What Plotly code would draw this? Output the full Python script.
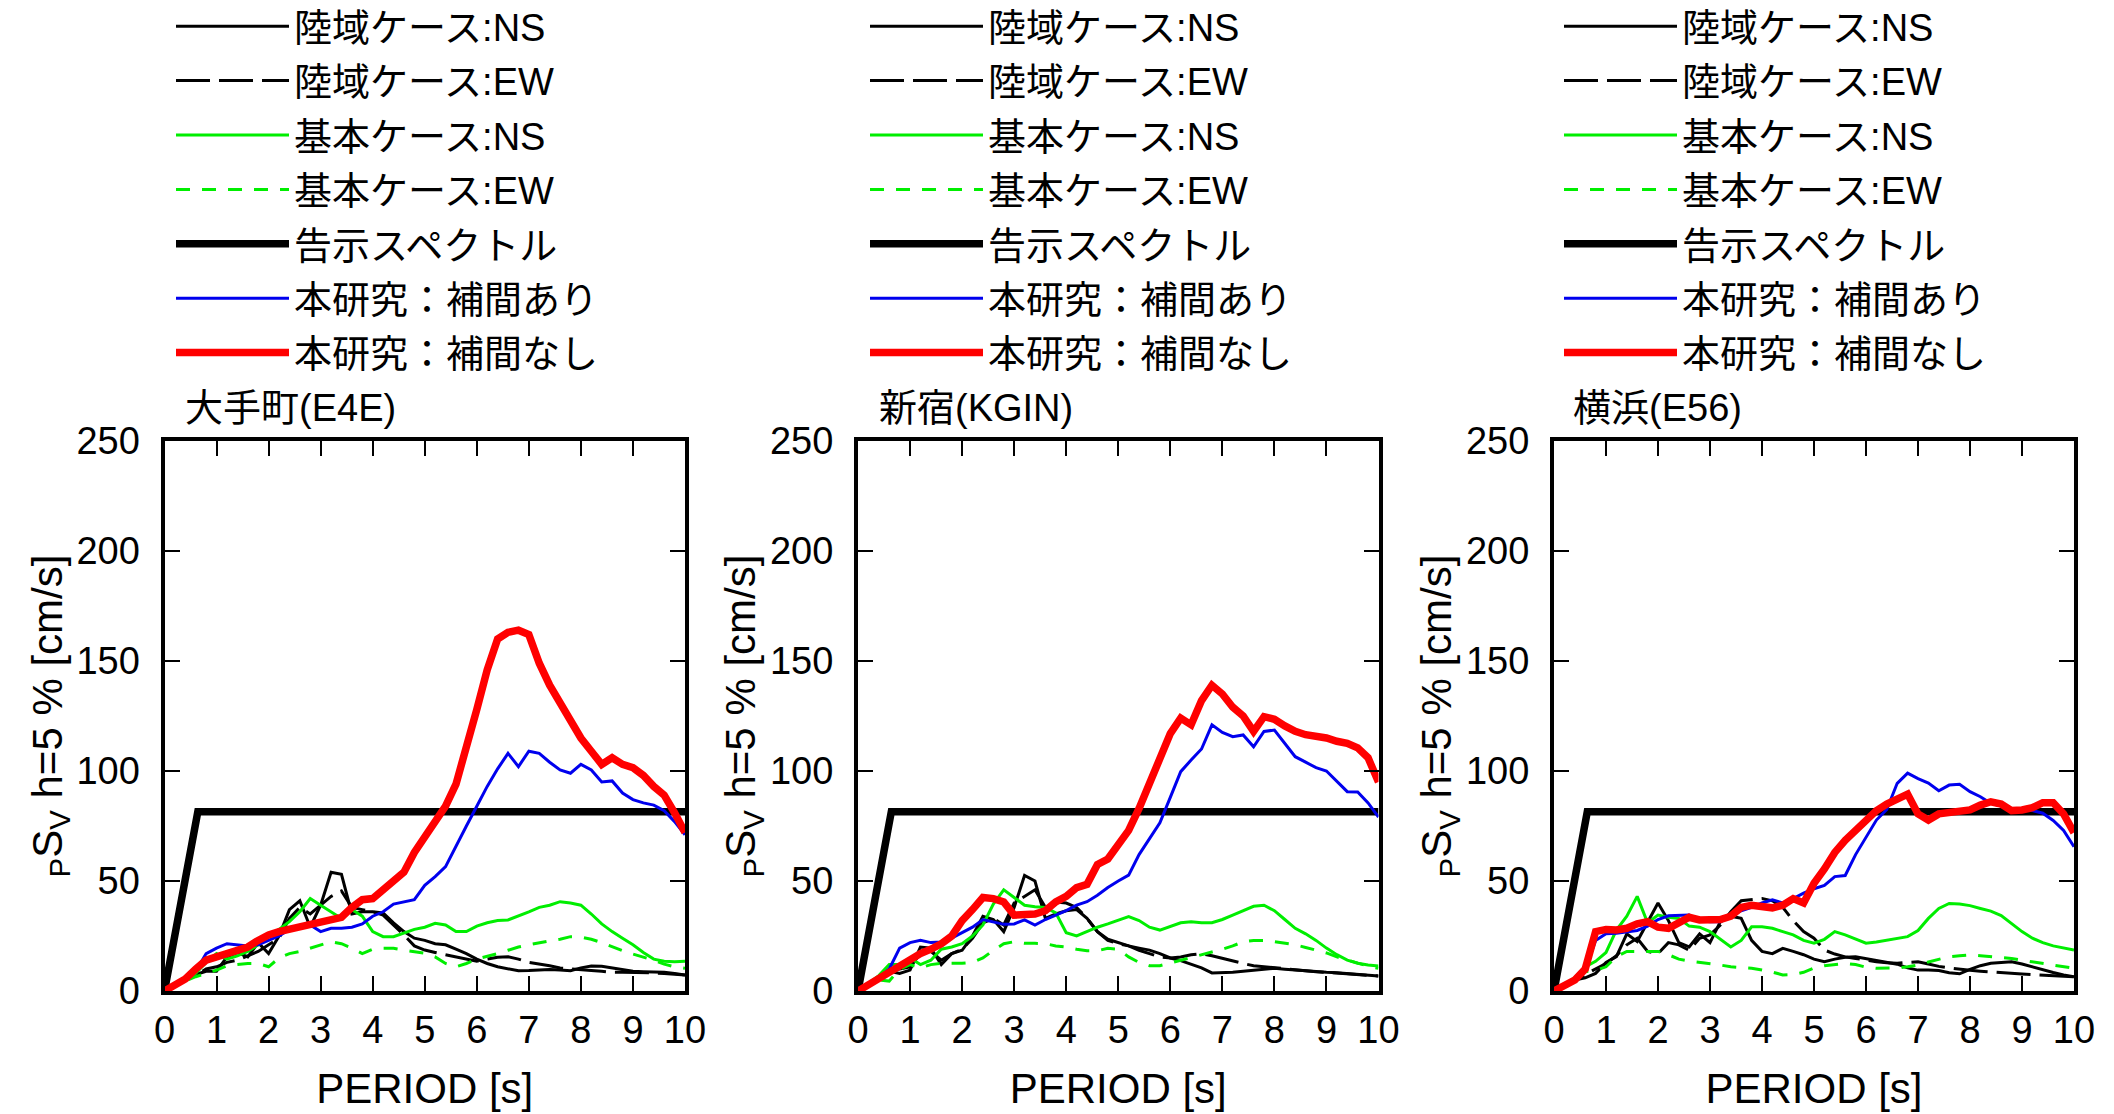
import plotly.graph_objects as go

# ---------------- data ----------------
PERIOD = [0.0, 0.2, 0.4, 0.6, 0.8, 1.0, 1.2, 1.4, 1.6, 1.8,
          2.0, 2.2, 2.4, 2.6, 2.8, 3.0, 3.2, 3.4, 3.6, 3.8,
          4.0, 4.2, 4.4, 4.6, 4.8, 5.0, 5.2, 5.4, 5.6, 5.8,
          6.0, 6.2, 6.4, 6.6, 6.8, 7.0, 7.2, 7.4, 7.6, 7.8,
          8.0, 8.2, 8.4, 8.6, 8.8, 9.0, 9.2, 9.4, 9.6, 9.8, 10.0]

KOKUJI_T = [0.0, 0.16, 0.64, 10.0]
KOKUJI_SV = [0.0, 20.4, 81.5, 81.5]

SITE_NAMES = ["大手町(E4E)", "新宿(KGIN)", "横浜(E56)"]
SERIES_NAMES = ["陸域ケース:NS", "陸域ケース:EW", "基本ケース:NS", "基本ケース:EW",
                "告示スペクトル", "本研究：補間あり", "本研究：補間なし"]

# --- 大手町 (E4E)
E4E_RIKU_NS = [0, 3, 5.5, 7.5, 9, 9, 15.5, 17.5, 15.5, 22,
               17, 25, 37, 41, 29, 39, 54, 53, 35, 36,
               36, 35.5, 31, 27, 24, 23, 21.5, 21, 19, 17,
               14.5, 12.5, 11, 10, 9.2, 9.3, 9.5, 9.8, 9.5, 9.2,
               10.5, 11.4, 11.2, 10.5, 9.5, 9, 8.8, 8.8, 8.5, 8, 7.3]
E4E_RIKU_EW = [0, 3, 5, 7, 10, 11, 13, 14, 16, 18,
               21, 24, 33, 38, 35, 39, 43, 45.5, 38, 37,
               36, 34.5, 30, 25.5, 20.5, 18.6, 17.5, 16.5, 15.5, 14.5,
               13.5, 14.5, 15.3, 15.6, 14.5, 13, 12.3, 11.5, 10.5, 10,
               9.5, 9.3, 9, 8.5, 8.5, 8.5, 8.3, 8.2, 8, 7.8, 7.3]
E4E_KIHON_NS = [0, 3, 5, 8, 13, 17, 14.5, 16, 18, 21,
                24.5, 28, 31.5, 36, 42, 39, 36, 33, 37, 34,
                27, 24.7, 24.7, 26.5, 28, 29, 30.8, 30, 27, 27,
                29.5, 31, 32, 32.3, 34, 36, 38, 39, 40.6, 40,
                39, 35, 30.5, 27, 24, 21, 17.5, 14.5, 13.5, 13.3, 13.5]
E4E_KIHON_EW = [0, 2.5, 4.5, 6.5, 8, 9.5, 11.5, 12, 12.5, 12.5,
                11, 15, 17, 18, 19.5, 21, 22.4, 21.5, 19.5, 17,
                19, 19.4, 19.4, 18.6, 18, 17.2, 15.5, 12.5, 11, 12.5,
                14.5, 15.6, 17, 18.5, 20, 21, 22, 22.8, 23.5, 24.7,
                24.5, 23.5, 22, 20, 18.3, 16.8, 15.5, 14, 12.2, 11, 10.3]
E4E_HOKAN_ARI = [0, 3, 5.5, 9, 17, 19.5, 21.5, 21, 20.5, 21,
                 23, 25, 28, 29.5, 30, 27, 28.5, 28.5, 29, 30.5,
                 34, 36, 39.5, 40.5, 41.5, 48, 52, 56.5, 66, 75,
                 84, 93, 101, 108, 102, 109, 108, 104, 100.5, 99,
                 103, 100.5, 95, 95.5, 90, 87, 85.5, 84.5, 82, 77, 71]
E4E_HOKAN_NASHI = [0, 3, 5.5, 10, 14, 15.5, 17, 18.5, 20, 23,
                   25.5, 27, 28, 29.5, 30, 31, 32, 33.5, 38, 41.5,
                   42, 46, 49, 54, 63, 70, 76, 84, 94, 110,
                   128, 146, 160, 163, 164, 162, 149, 139, 131, 123,
                   115, 109, 103, 106, 103, 101.5, 98, 93, 89, 81, 72]

# --- 新宿 (KGIN)
KGIN_RIKU_NS = [0, 3, 5.5, 9, 8, 9.5, 20, 19.5, 12, 17,
                18.5, 25, 34, 32.5, 27, 38, 52.5, 50, 33, 35,
                36.5, 37, 33, 27, 23.5, 22, 20.5, 19.5, 18.6, 17,
                15, 13.8, 12, 10.5, 8.2, 8.3, 8.5, 9, 9.5, 10,
                10.3, 9.9, 9.5, 9, 8.8, 8.5, 8.3, 8, 7.6, 7.2, 6.8]
KGIN_RIKU_EW = [0, 3, 6, 9.5, 10, 11, 17, 18, 14, 17,
                19, 24, 31, 33, 30, 40, 43, 46, 38, 40.5,
                40, 38, 33, 27, 23, 21.5, 20.5, 18.5, 17, 15.5,
                15, 15.5, 16.5, 17, 16, 14.8, 13.5, 12.5, 11.5, 11,
                10.5, 10.2, 9.8, 9.3, 8.8, 8.5, 8.2, 8, 7.6, 7.2, 6.8]
KGIN_KIHON_NS = [0, 3.5, 7, 12, 12, 15, 12, 14, 19, 20,
                 21.5, 25, 30, 39.5, 46, 42.5, 39, 38.3, 38, 35.5,
                 26.5, 25, 27, 29, 30.5, 32, 33.8, 32, 29, 27.7,
                 29.5, 31, 31.5, 31, 31, 32.5, 34.5, 36.5, 38.5, 39,
                 36.5, 32.5, 28.5, 26, 23, 19.5, 16.5, 14, 12.6, 11.8, 11.4]
KGIN_KIHON_EW = [0, 3, 5, 4.5, 10, 12, 10.5, 12, 12.6, 12.6,
                 12.6, 13, 15, 18.5, 21.5, 22.4, 21.7, 21.7, 21.5, 20.5,
                 20, 19, 18.3, 18.3, 19.4, 19, 15.5, 13, 11.5, 11.5,
                 12.6, 14, 15.2, 16.5, 17.5, 19, 20.5, 22.4, 23, 23,
                 22.4, 21.8, 21, 19.8, 18.5, 17.3, 15.5, 14, 12.6, 11.3, 10.3]
KGIN_HOKAN_ARI = [0, 3, 6, 10, 19.5, 22, 23, 22, 22.3, 24,
                  26.5, 29, 32.5, 31.5, 30.3, 30.5, 32.3, 30, 32.5, 34.5,
                  36.5, 39, 40.6, 43.5, 47, 50, 52.7, 62, 69.5, 76.5,
                  88, 99.7, 105, 110, 121, 117.5, 115.6, 116.4, 111, 118,
                  118.6, 112.5, 106.5, 104, 101.5, 100, 95.5, 90.6, 90.5, 85.5, 79]
KGIN_HOKAN_NASHI = [0, 3, 5.5, 8.5, 11, 15, 17, 19, 21.5, 25,
                    32, 37, 42.5, 42, 40.5, 34.5, 34.5, 35, 36.5, 40.5,
                    43, 47, 48.5, 57.5, 60, 66, 73, 83, 94, 105,
                    117, 124, 121, 132, 139, 135, 129, 125, 118, 124.7,
                    123.5, 120.5, 118, 116.5, 116, 115, 113.5, 112.6, 110.5, 106, 95]

# --- 横浜 (E56)
E56_RIKU_NS = [0, 3, 5, 6, 8, 13, 15.6, 26, 22.5, 31,
               40, 32, 22, 20, 26, 22, 31.5, 34, 33, 23,
               18, 17, 19.4, 18, 16.5, 14.5, 13.3, 14.5, 15.3, 15.6,
               14.8, 14, 13.2, 12.2, 10.5, 9.5, 9.5, 9.3, 8.3, 7.8,
               9.8, 11.5, 12.6, 13.1, 13.3, 12.3, 11, 9.5, 8.4, 7.3, 6.5]
E56_RIKU_EW = [0, 3, 5, 7.5, 10, 12.5, 16, 21, 24, 18,
               17, 22, 21, 18.5, 24, 25.5, 30, 36, 41, 41.5,
               42, 41, 38, 32, 27, 24, 18.6, 16.8, 15.5, 14.8,
               14, 13.3, 12.8, 12.6, 13, 13.3, 12.3, 11.2, 10.5, 9.8,
               9.4, 9, 8.6, 8.3, 8, 7.7, 7.4, 7.2, 7, 6.8, 6.5]
E56_KIHON_NS = [0, 3, 6, 11, 13.5, 17.5, 27.7, 34, 43, 31,
                34.5, 33.5, 33, 29.5, 29, 27, 23.5, 20, 23, 29.2,
                29.2, 28.5, 27, 25.5, 23, 21.7, 23.5, 27, 25.5, 23.5,
                21.7, 22.3, 23, 24, 24.7, 27.5, 33, 37.5, 39.8, 39.5,
                38.8, 37.5, 36.3, 34.3, 30.5, 27, 24, 22, 20.5, 19.5, 18.6]
E56_KIHON_EW = [0, 2.5, 5, 8.8, 9.3, 11, 15.6, 18, 18, 18,
                18, 16.5, 14.5, 13.6, 13, 12.6, 11.8, 11, 10.6, 10.3,
                9.5, 8.6, 7.3, 7.5, 8.5, 10.5, 11.5, 12, 12.5, 12,
                10.8, 10.3, 10.3, 10.5, 11, 11.8, 13.2, 14.5, 15.6, 16,
                16.4, 16, 15.6, 15.2, 14.8, 14, 13.2, 12.4, 11.6, 11, 10.3]
E56_HOKAN_ARI = [0, 3, 5, 9.5, 23, 26, 26.3, 26.8, 27.5, 29.5,
                 32.5, 34.2, 34.5, 34.5, 32, 31.5, 31.5, 34, 36.5, 38,
                 40, 41.4, 40, 42, 44.5, 46.5, 48, 52, 52.5, 62,
                 70, 77.7, 82.5, 94.4, 99, 96.5, 94.5, 91, 93.6, 94,
                 90.6, 88.3, 85.3, 84, 82.8, 82.3, 82, 80.8, 77.5, 73, 65.6]
E56_HOKAN_NASHI = [0, 3, 5, 10, 27, 28, 27.7, 28.5, 30.5, 31.5,
                   29, 28.5, 31, 33.5, 32.3, 32.3, 32.5, 34, 38, 39,
                   38.5, 37.8, 39, 42, 40, 49, 55.5, 63, 68.5, 73,
                   78.5, 82, 85, 87.5, 89.5, 80.5, 77.7, 80.5, 81.2, 81.5,
                   82.3, 84.5, 86, 85, 82, 82.3, 83.3, 85.6, 85.6, 80.5, 72]

X_TICKS = [0, 1, 2, 3, 4, 5, 6, 7, 8, 9, 10]
Y_TICKS = [0, 50, 100, 150, 200, 250]

# ---------------- styling ----------------
W, H = 2114, 1114
FONT = "Liberation Sans, Arial, Noto Sans CJK JP, sans-serif"
FS = 38
FS_TITLE = 42

site_data = [
    [E4E_RIKU_NS, E4E_RIKU_EW, E4E_KIHON_NS, E4E_KIHON_EW, E4E_HOKAN_ARI, E4E_HOKAN_NASHI],
    [KGIN_RIKU_NS, KGIN_RIKU_EW, KGIN_KIHON_NS, KGIN_KIHON_EW, KGIN_HOKAN_ARI, KGIN_HOKAN_NASHI],
    [E56_RIKU_NS, E56_RIKU_EW, E56_KIHON_NS, E56_KIHON_EW, E56_HOKAN_ARI, E56_HOKAN_NASHI],
]

styles = [
    dict(color="#000000", width=3, dash="solid"),
    dict(color="#000000", width=3, dash="34px,9px"),
    dict(color="#00ee00", width=3, dash="solid"),
    dict(color="#00ee00", width=3, dash="14px,12px"),
    dict(color="#000000", width=7.5, dash="solid"),
    dict(color="#0000ee", width=3, dash="solid"),
    dict(color="#ff0000", width=7.5, dash="solid"),
]

# plot areas in pixels (left, right) ; shared top/bottom
px_lr = [(164.5, 685.0), (858.0, 1378.5), (1554.0, 2074.0)]
py_top, py_bot = 441.0, 991.0
legend_origin_x = [171, 865, 1559]
title_x = [183, 877, 1571]
ITEM_W = 113

fig = go.Figure()
legend_ids = ["legend", "legend2", "legend3"]

for i in range(3):
    xa = "x" if i == 0 else f"x{i+1}"
    ya = "y" if i == 0 else f"y{i+1}"
    d = site_data[i]
    ys = [d[0], d[1], d[2], d[3], None, d[4], d[5]]
    for k in range(7):
        if k == 4:
            xv, yv = KOKUJI_T, KOKUJI_SV
        else:
            xv, yv = PERIOD, ys[k]
        fig.add_trace(go.Scatter(
            x=xv, y=yv, mode="lines", name=SERIES_NAMES[k],
            line=dict(color=styles[k]["color"], width=styles[k]["width"],
                      dash=styles[k]["dash"]),
            xaxis=xa, yaxis=ya, legend=legend_ids[i],
            legendgroup=f"g{i}_{k}", hoverinfo="skip",
        ))

layout = dict(
    width=W, height=H,
    margin=dict(l=0, r=0, t=0, b=0, autoexpand=False),
    paper_bgcolor="white", plot_bgcolor="white",
    font=dict(family=FONT, size=FS, color="black"),
    showlegend=True,
    annotations=[],
)

axis_common = dict(
    showline=True, linewidth=4, linecolor="black", mirror="ticks",
    ticks="inside", ticklen=15, tickwidth=2, tickcolor="black",
    showgrid=False, zeroline=False, automargin=False,
    tickfont=dict(family=FONT, size=FS, color="black"),
)

ydom = [(H - py_bot) / H, (H - py_top) / H]
for i in range(3):
    l, r = px_lr[i]
    xk = "xaxis" if i == 0 else f"xaxis{i+1}"
    yk = "yaxis" if i == 0 else f"yaxis{i+1}"
    xa = "x" if i == 0 else f"x{i+1}"
    ya = "y" if i == 0 else f"y{i+1}"
    layout[xk] = dict(axis_common, domain=[l / W, r / W], range=[0, 10],
                      tickvals=X_TICKS, ticktext=[str(v) for v in X_TICKS],
                      anchor=ya, ticklabelstandoff=2,
                      title=dict(text="PERIOD [s]", standoff=25,
                                 font=dict(family=FONT, size=FS_TITLE)))
    layout[yk] = dict(axis_common, domain=ydom, range=[0, 250],
                      tickvals=Y_TICKS, ticktext=[str(v) for v in Y_TICKS],
                      anchor=xa, ticklabelstandoff=13,
                      title=dict(text="<sub>P</sub>S<sub>V</sub> h=5 % [cm/s]",
                                 standoff=0, font=dict(family=FONT, size=FS_TITLE)))
    leg = dict(
        x=legend_origin_x[i] / W, xanchor="left",
        y=1.0045, yanchor="top",
        bgcolor="rgba(0,0,0,0)", borderwidth=0,
        font=dict(family=FONT, size=FS, color="black"),
        itemwidth=ITEM_W, tracegroupgap=2, traceorder="grouped",
    )
    layout[legend_ids[i]] = leg
    layout["annotations"].append(dict(
        text=SITE_NAMES[i], xref="paper", yref="paper",
        x=title_x[i] / W, y=(H - 408) / H, xanchor="left", yanchor="middle",
        showarrow=False, font=dict(family=FONT, size=FS, color="black"),
    ))

fig.update_layout(**layout)
fig.write_html("out.html")
